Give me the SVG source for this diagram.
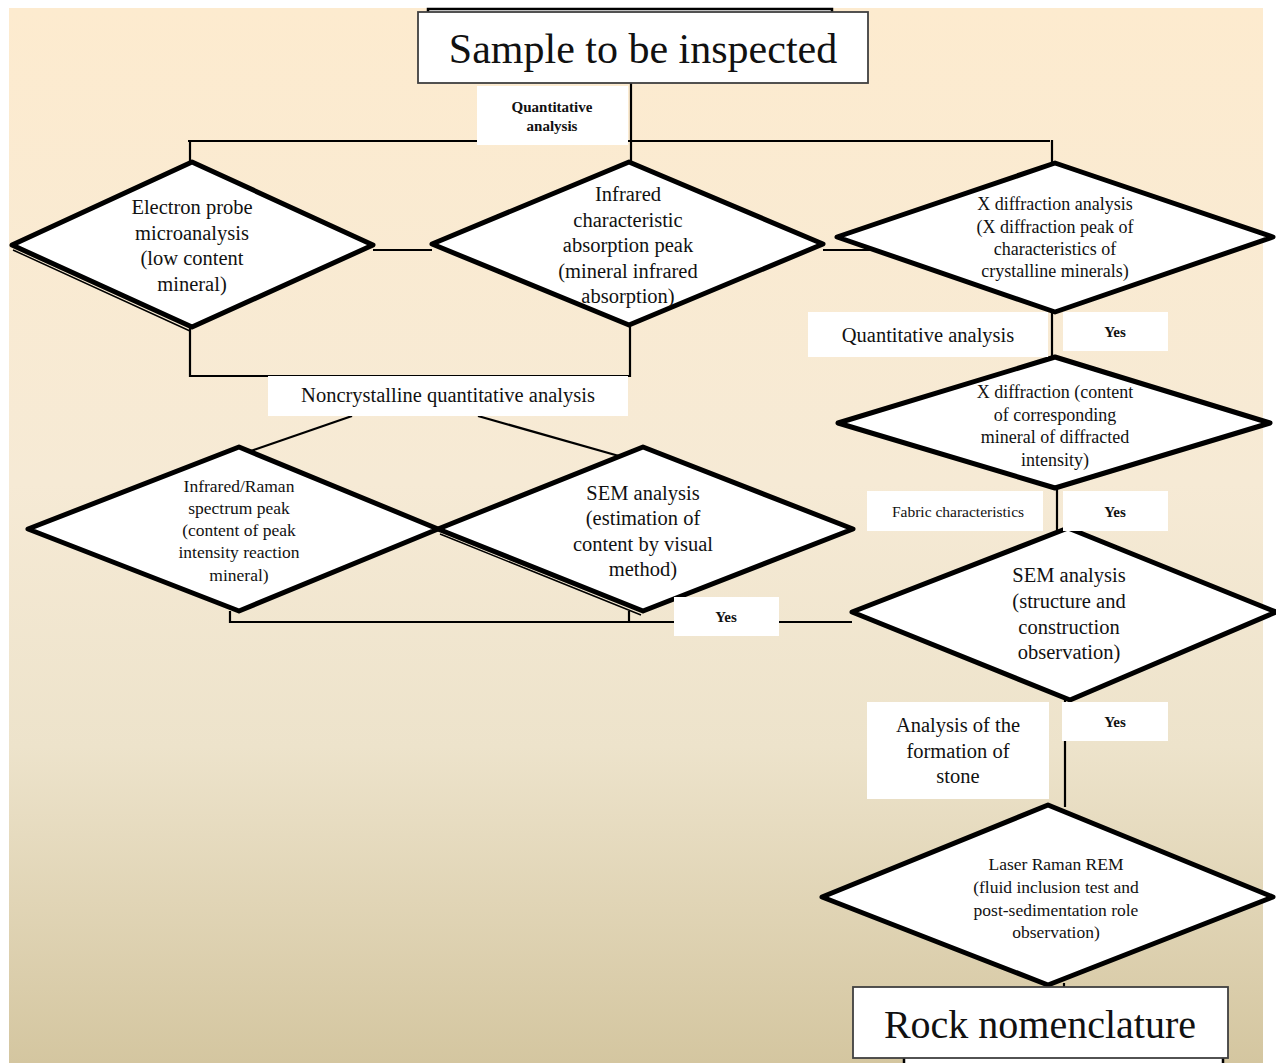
<svg xmlns="http://www.w3.org/2000/svg" width="1276" height="1063" viewBox="0 0 1276 1063">
<defs>
<linearGradient id="bg" x1="0" y1="0" x2="0" y2="1">
<stop offset="0" stop-color="#fdebcf"/>
<stop offset="0.45" stop-color="#f6ead5"/>
<stop offset="0.7" stop-color="#ede3cb"/>
<stop offset="1" stop-color="#d4c6a0"/>
</linearGradient>
<style>
.dia{fill:#fff;stroke:#000;stroke-width:5;stroke-linejoin:round}
.shadow{fill:none;stroke:#000;stroke-width:1.5}
.box{fill:#fff;stroke:#404040;stroke-width:1.8}
.lbl{fill:#fff;stroke:none}
.con{fill:none;stroke:#000;stroke-width:2.2}
text{font-family:"Liberation Serif","Times New Roman",serif;fill:#111;text-anchor:middle}
.t20{font-size:20.5px}
.t18{font-size:18px}
.t17{font-size:17.5px}
.b{font-weight:bold;font-size:15px}
</style>
</defs>
<rect x="0" y="0" width="1276" height="1063" fill="#fff"/>
<rect x="9" y="8" width="1254" height="1055" fill="url(#bg)"/>

<g id="connectors">
<line class="con" x1="631" y1="83" x2="631" y2="166"/>
<line class="con" x1="188" y1="141" x2="1050" y2="141"/>
<line class="con" x1="190" y1="140" x2="190" y2="164"/>
<line class="con" x1="1052" y1="140" x2="1052" y2="164"/>
<line class="con" x1="373" y1="250" x2="432" y2="250"/>
<line class="con" x1="823" y1="250" x2="880" y2="250"/>
<polyline class="con" points="190,327 190,376 630,376 630,325"/>
<line class="con" x1="352" y1="416" x2="248" y2="452"/>
<line class="con" x1="478" y1="416" x2="626" y2="458"/>
<polyline class="con" points="230,611 230,622 852,622"/>
<line class="con" x1="629" y1="611" x2="629" y2="622"/>
<line class="con" x1="1052" y1="310" x2="1052" y2="359"/>
<line class="con" x1="1057" y1="486" x2="1057" y2="530"/>
<line class="con" x1="1065" y1="698" x2="1065" y2="807"/>
<line class="con" x1="1064" y1="983" x2="1064" y2="988"/>
</g>

<g id="node-sample">
<rect x="428" y="9" width="404" height="20" fill="#fff" stroke="#000" stroke-width="2.5"/>
<rect class="box" x="418" y="12" width="450" height="71"/>
<text x="643" y="63" style="font-size:42px">Sample to be inspected</text>
</g>

<g id="node-electron">
<line class="shadow" x1="13" y1="250" x2="190" y2="331"/>
<polygon class="dia" points="12,245 192,162 373,245 192,327"/>
<text class="t20" x="192" y="214">Electron probe</text>
<text class="t20" x="192" y="240">microanalysis</text>
<text class="t20" x="192" y="265">(low content</text>
<text class="t20" x="192" y="291">mineral)</text>
</g>

<g id="node-infrared">
<polygon class="dia" points="432,244 629,162 823,244 629,325"/>
<text class="t20" x="628" y="201">Infrared</text>
<text class="t20" x="628" y="227">characteristic</text>
<text class="t20" x="628" y="252">absorption peak</text>
<text class="t20" x="628" y="278">(mineral infrared</text>
<text class="t20" x="628" y="303">absorption)</text>
</g>

<g id="node-xdiff">
<polygon class="dia" points="837,237 1055,163 1273,237 1055,312"/>
<text class="t18" x="1055" y="210">X diffraction analysis</text>
<text class="t18" x="1055" y="233">(X diffraction peak of</text>
<text class="t18" x="1055" y="255">characteristics of</text>
<text class="t18" x="1055" y="277">crystalline minerals)</text>
</g>

<g id="node-xdiff-content">
<polygon class="dia" points="838,423 1055,357 1270,423 1055,488"/>
<text class="t18" x="1055" y="398">X diffraction (content</text>
<text class="t18" x="1055" y="421">of corresponding</text>
<text class="t18" x="1055" y="443">mineral of diffracted</text>
<text class="t18" x="1055" y="466">intensity)</text>
</g>

<g id="node-raman">
<polygon class="dia" points="28,529 239,447 438,529 239,611"/>
<text class="t17" x="239" y="492">Infrared/Raman</text>
<text class="t17" x="239" y="514">spectrum peak</text>
<text class="t17" x="239" y="536">(content of peak</text>
<text class="t17" x="239" y="558">intensity reaction</text>
<text class="t17" x="239" y="581">mineral)</text>
</g>

<g id="node-sem-estimation">
<line class="shadow" x1="440" y1="534" x2="641" y2="615"/>
<polygon class="dia" points="438,529 643,447 853,529 643,611"/>
<text class="t20" x="643" y="500">SEM analysis</text>
<text class="t20" x="643" y="525">(estimation of</text>
<text class="t20" x="643" y="551">content by visual</text>
<text class="t20" x="643" y="576">method)</text>
</g>

<g id="node-sem-structure">
<polygon class="dia" points="852,612 1068,528 1276,612 1070,700"/>
<text class="t20" x="1069" y="582">SEM analysis</text>
<text class="t20" x="1069" y="608">(structure and</text>
<text class="t20" x="1069" y="634">construction</text>
<text class="t20" x="1069" y="659">observation)</text>
</g>

<g id="node-laser">
<polygon class="dia" points="822,897 1048,805 1273,897 1048,985"/>
<text class="t17" x="1056" y="870">Laser Raman REM</text>
<text class="t17" x="1056" y="893">(fluid inclusion test and</text>
<text class="t17" x="1056" y="916">post-sedimentation role</text>
<text class="t17" x="1056" y="938">observation)</text>
</g>

<g id="node-rock">
<rect x="904" y="1055" width="319" height="20" fill="#fff" stroke="#000" stroke-width="2.5"/>
<rect class="box" x="853" y="987" width="375" height="71"/>
<text x="1040" y="1038" style="font-size:40px">Rock nomenclature</text>
</g>

<g id="labels">
<rect class="lbl" x="477" y="86" width="151" height="59"/>
<text class="b" x="552" y="112">Quantitative</text>
<text class="b" x="552" y="131">analysis</text>
<rect class="lbl" x="268" y="376" width="360" height="40"/>
<text class="t20" x="448" y="402">Noncrystalline quantitative analysis</text>
<rect class="lbl" x="808" y="312" width="240" height="45"/>
<text class="t20" x="928" y="342">Quantitative analysis</text>
<rect class="lbl" x="1063" y="312" width="105" height="39"/>
<text class="b" x="1115" y="337">Yes</text>
<rect class="lbl" x="867" y="491" width="176" height="40"/>
<text x="958" y="517" style="font-size:15.5px">Fabric characteristics</text>
<rect class="lbl" x="1063" y="491" width="105" height="40"/>
<text class="b" x="1115" y="517">Yes</text>
<rect class="lbl" x="674" y="597" width="105" height="39"/>
<text class="b" x="726" y="622">Yes</text>
<rect class="lbl" x="867" y="702" width="182" height="97"/>
<text class="t20" x="958" y="732">Analysis of the</text>
<text class="t20" x="958" y="758">formation of</text>
<text class="t20" x="958" y="783">stone</text>
<rect class="lbl" x="1062" y="702" width="106" height="39"/>
<text class="b" x="1115" y="727">Yes</text>
</g>
</svg>
